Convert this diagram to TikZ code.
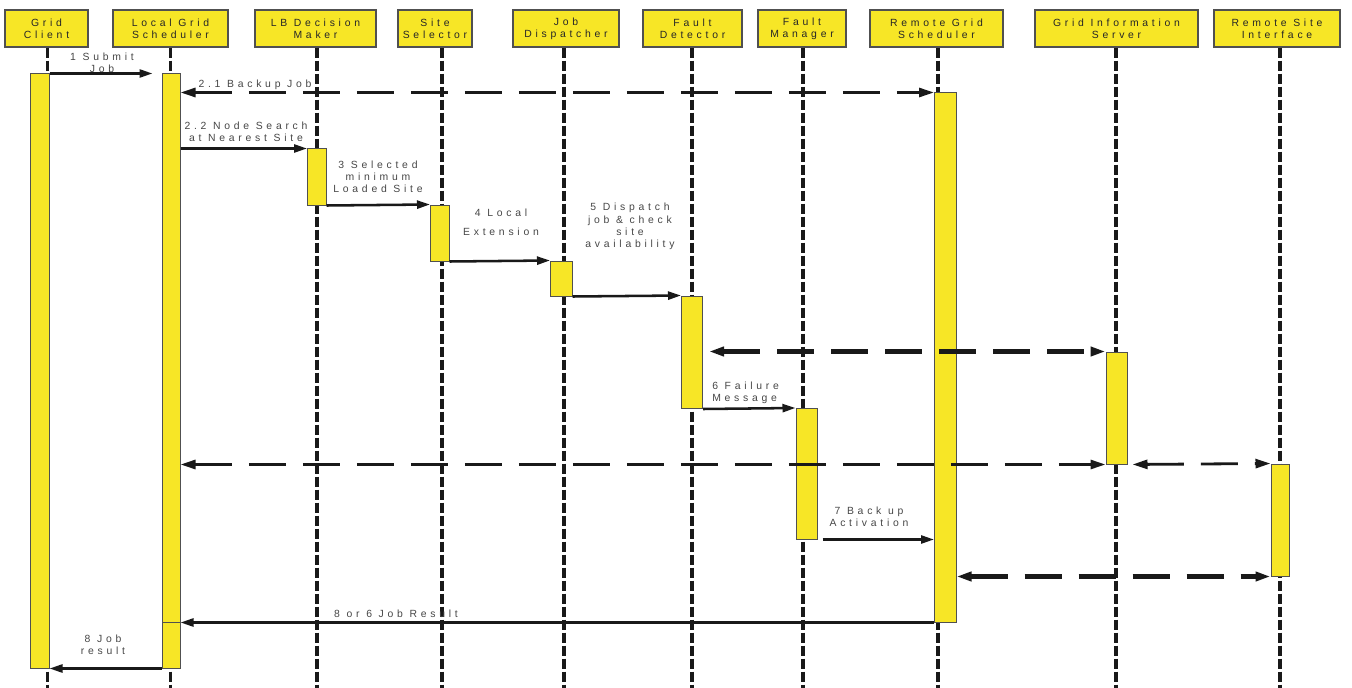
\documentclass[tikz,border=0pt]{standalone}
\usepackage{fontspec}
\setmainfont{Liberation Sans}[LetterSpace=36]
\usetikzlibrary{arrows.meta,fit}
\definecolor{bary}{RGB}{247,230,38}
\definecolor{edgec}{RGB}{80,80,80}
\definecolor{txtc}{RGB}{70,70,70}
\newcommand\lbfont{\fontsize{7.8pt}{9.2pt}\selectfont}
\begin{document}
\begin{tikzpicture}[x=0.75pt,y=-0.75pt,
  hdr/.style={draw=edgec, line width=0.9pt, fill=bary, inner sep=0pt, minimum height=27.75pt, align=center, font=\lbfont, text=black!85},
  bar/.style={draw=edgec, line width=0.75pt, fill=bary, inner sep=0pt},
  life/.style={line width=2.6pt, dash pattern=on 7.5pt off 2.25pt, black!90},
  msg/.style={line width=1.9pt, black!90, -{Triangle[length=9.75pt,width=6pt]}},
  dmsg/.style={line width=2.1pt, black!90, dash pattern=on 27.75pt off 12.75pt, {Triangle[length=11.25pt,width=6.75pt]}-{Triangle[length=11.25pt,width=6.75pt]}},
  dmsgw/.style={dmsg, line width=3.2pt},
  lbl/.style={font=\lbfont, text=txtc, align=center, inner sep=0pt}]
\useasboundingbox (0,0) rectangle (1352,688);
% headers
\node[hdr, minimum width=83*0.75pt] (gc) at (46.5,28.5) {Grid\\Client};
\node[hdr, minimum width=115*0.75pt] (lgs) at (170.5,28.5) {Local Grid\\Scheduler};
\node[hdr, minimum width=121*0.75pt] (lbdm) at (315.5,28.5) {LB Decision\\Maker};
\node[hdr, minimum width=74*0.75pt] (ss) at (435,28.5) {Site\\Selector};
\node[hdr, minimum width=106*0.75pt] (jd) at (566,28.5) {Job\\Dispatcher};
\node[hdr, minimum width=99*0.75pt] (fd) at (692.5,28.5) {Fault\\Detector};
\node[hdr, minimum width=88*0.75pt] (fm) at (802,28.5) {Fault\\Manager};
\node[hdr, minimum width=133*0.75pt] (rgs) at (936.5,28.5) {Remote Grid\\Scheduler};
\node[hdr, minimum width=163*0.75pt] (gis) at (1116.5,28.5) {Grid Information\\Server};
\node[hdr, minimum width=126*0.75pt] (rsi) at (1277,28.5) {Remote Site\\Interface};
% lifeline ends
\coordinate (gcl) at (47.5,690);
\coordinate (lgsl) at (170.5,690);
\coordinate (lbdml) at (317,690);
\coordinate (ssl) at (442,690);
\coordinate (jdl) at (564,690);
\coordinate (fdl) at (692,690);
\coordinate (fml) at (803,690);
\coordinate (rgsl) at (938,690);
\coordinate (gisl) at (1116,690);
\coordinate (rsil) at (1280,690);
\foreach \h/\l in {gc/gcl,lgs/lgsl,lbdm/lbdml,ss/ssl,jd/jdl,fd/fdl,fm/fml,rgs/rgsl,gis/gisl,rsi/rsil}
  \draw[life] (\h.south -| \l) -- (\l);
% activation bars
\node[bar, fit={(30,74) (49,668)}] (gcb) {};
\node[bar, fit={(162,74) (180,622)}] (lgsb1) {};
\node[bar, fit={(162,622) (180,668)}] (lgsb2) {};
\node[bar, fit={(307.5,149) (326,205)}] (lbdmb) {};
\node[bar, fit={(430.5,205) (449,261)}] (ssb) {};
\node[bar, fit={(550.5,261) (572,296)}] (jdb) {};
\node[bar, fit={(681.5,296) (702.5,408.5)}] (fdb) {};
\node[bar, fit={(796,408.5) (817,539)}] (fmb) {};
\node[bar, fit={(934.5,93) (956,622)}] (rgsb) {};
\node[bar, fit={(1106,352) (1127,464)}] (gisb) {};
\node[bar, fit={(1271,464) (1289.5,576)}] (rsib) {};
% messages
\draw[msg, shorten >=6.75pt] (gcb.north east) -- (lgsb1.north west);
\draw[dmsg] (lgsb1.east |- rgsb.north) -- (rgsb.north west);
\draw[msg] (lgsb1.east |- lbdmb.north) -- (lbdmb.north west);
\draw[msg] (lbdmb.south east) -- (ssb.north west);
\draw[msg] (ssb.south east) -- (jdb.north west);
\draw[msg] (jdb.south east) -- (fdb.north west);
\draw[dmsgw, shorten <=4.5pt] (fdb.east |- gisb.north) -- (gisb.north west);
\draw[msg] (fdb.south east) -- (fmb.north west);
\draw[dmsg] (lgsb1.east |- gisb.south) -- (gisb.south west);
\draw[dmsg, shorten <=3.75pt] (gisb.south east) -- (rsib.north west);
\draw[msg, shorten <=3.75pt] (fmb.south east) -- (rgsb.west |- fmb.south);
\draw[dmsgw] (rgsb.east |- rsib.south) -- (rsib.south west);
\draw[msg] (rgsb.south west) -- (lgsb1.south east);
\draw[msg] (lgsb2.south west) -- (gcb.south east);
% labels
\node[lbl] (t1) at (102,63) {1 Submit\\Job};
\node[lbl] (t21) at (255,85) {2.1 Backup Job};
\node[lbl] (t22) at (246,131.5) {2.2 Node Search\\at Nearest Site};
\node[lbl] (t3) at (378,177) {3 Selected\\minimum\\Loaded Site};
\node[lbl] (t4) at (501,222.5) {4 Local\\[5.25pt]Extension};
\node[lbl] (t5) at (630,226.5) {5 Dispatch\\job \& check\\site\\availability};
\node[lbl, align=left, anchor=west] (t6) at (712,392.5) {6 Failure\\Message};
\node[lbl] (t7) at (869,517) {7 Back up\\Activation};
\node[lbl] (t8a) at (396,614) {8 or 6 Job Result};
\node[lbl] (t8b) at (103,644.5) {8 Job\\result};
\end{tikzpicture}
\end{document}
